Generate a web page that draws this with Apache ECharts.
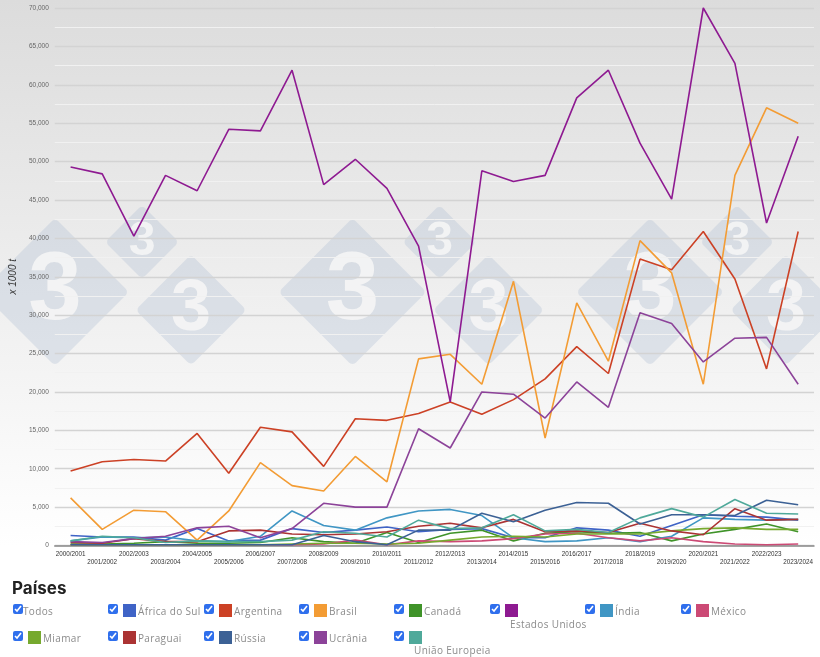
<!DOCTYPE html>
<html>
<head>
    <meta charset="utf-8">
    <title>Países</title>
    <script src="https://cdn.jsdelivr.net/npm/echarts@6/dist/echarts.min.js"></script>
    <style>
        html, body { margin: 0; padding: 0; background: #fff; overflow: hidden; }
        #main { position: absolute; left: 0; top: 0; width: 820px; height: 657px; }
        h2 { position: absolute; left: 12px; top: 578px; margin: 0; font: 700 17px Inter, sans-serif; color: #222; }
        #legend label { position: absolute; font: 10px "Open Sans", sans-serif; letter-spacing: .35px; color: #8b8b8b; white-space: nowrap; }
        #legend input { position: absolute; width: 10px; height: 10px; margin: 0; accent-color: #2f6fed; }
        #legend i { position: absolute; width: 13px; height: 13px; }
        #legend span { position: absolute; }
    </style>
</head>
<body>
    <div id="main"></div>
    <h2>Países</h2>
    <div id="legend"></div>
    <script type="text/javascript">
    var categories = ['2000/2001','2001/2002','2002/2003','2003/2004','2004/2005','2005/2006','2006/2007','2007/2008','2008/2009','2009/2010','2010/2011','2011/2012','2012/2013','2013/2014','2014/2015','2015/2016','2016/2017','2017/2018','2018/2019','2019/2020','2020/2021','2021/2022','2022/2023','2023/2024'];

    var africaDoSul = [1300,1100,1100,700,2200,600,700,2200,1700,2000,2400,1800,2100,2200,1000,1000,2300,2000,1200,2600,4000,3800,3700,3300];
    var argentina = [9700,10900,11200,11000,14600,9400,15400,14800,10300,16500,16300,17200,18700,17100,19000,21700,25900,22400,37300,35900,40900,34700,23000,40900];
    var brasil = [6200,2100,4600,4400,700,4500,10800,7800,7100,11600,8300,24300,24900,21000,34400,14000,31600,24000,39700,35500,21000,48200,57000,55000];
    var canada = [200,200,300,500,300,300,400,1000,500,300,1700,400,1600,2000,600,1600,1800,1600,1700,600,1500,2100,2800,1800];
    var estadosUnidos = [49300,48400,40300,48200,46200,54200,54000,61900,47000,50300,46500,39000,18700,48800,47400,48200,58300,61900,52400,45100,70000,62800,42000,53300];
    var india = [600,1100,1000,1100,600,500,1200,4500,2600,2000,3600,4500,4700,3900,1000,500,600,1000,500,1200,3600,3400,3300,3400];
    var mexico = [100,100,100,100,100,100,100,100,200,700,100,600,500,600,900,1500,1600,1000,600,1000,500,200,100,200];
    var miamar = [100,100,100,100,100,100,100,200,300,300,200,300,700,1100,1200,1100,1500,1500,1500,1900,2200,2300,2100,2100];
    var paraguai = [400,300,900,500,500,1900,2000,1500,1400,1500,1800,2500,2900,2300,3400,1800,1900,1700,2900,1900,1400,4800,3300,3400];
    var russia = [100,100,100,100,100,100,100,100,1300,500,100,2000,2000,4200,3100,4600,5600,5500,2800,4000,4000,3900,5900,5300];
    var ucrania = [500,400,900,1200,2300,2500,1000,2200,5500,5000,5000,15200,12700,20000,19700,16600,21300,18000,30300,28900,23900,27000,27100,21000];
    var uniaoEuropeia = [600,1200,1000,400,600,500,500,700,1800,1600,1100,3300,2200,2300,4000,1900,2100,1700,3600,4800,3700,6000,4200,4100];

    var paises = [
        { name: 'África do Sul', data: africaDoSul, color: '#3f63c6' },
        { name: 'Argentina', data: argentina, color: '#cc4125' },
        { name: 'Brasil', data: brasil, color: '#f39c34' },
        { name: 'Canadá', data: canada, color: '#3f9329' },
        { name: 'Estados Unidos', data: estadosUnidos, color: '#8e1a91' },
        { name: 'Índia', data: india, color: '#4096c4' },
        { name: 'México', data: mexico, color: '#cc4a75' },
        { name: 'Miamar', data: miamar, color: '#76a92e' },
        { name: 'Paraguai', data: paraguai, color: '#ab3333' },
        { name: 'Rússia', data: russia, color: '#3c6195' },
        { name: 'Ucrânia', data: ucrania, color: '#8c4399' },
        { name: 'União Europeia', data: uniaoEuropeia, color: '#4fa99a' }
    ];

    // marca d'agua: losangos com o 3
    function losango(cx, cy, d) {
        var lado = d * Math.SQRT2;
        return {
            type: 'group', x: cx, y: cy, silent: true,
            children: [
                { type: 'rect', z: -5, rotation: Math.PI / 4,
                  shape: { x: -lado / 2, y: -lado / 2, width: lado, height: lado, r: 5 },
                  style: { fill: '#b4c2d6', opacity: 0.36 } },
                { type: 'text', z: -4,
                  style: { text: '3', x: 0, y: 0, align: 'center', verticalAlign: 'middle',
                           fontFamily: 'Liberation Sans', fontWeight: 'bold', fontSize: d * 1.3, fill: 'rgba(245,245,245,0.9)' } }
            ]
        };
    }
    var marcas = [
        { type: 'rect', z: -10, silent: true, shape: { x: 0, y: 0, width: 820, height: 546 },
          style: { fill: new echarts.graphic.LinearGradient(0, 0, 0, 1, [{ offset: 0, color: '#dcdcdc' }, { offset: 1, color: '#ffffff' }]) } }
    ];
    [0, 1, 2].forEach(function (i) {
        var dx = i * 297.5;
        marcas.push(losango(55 + dx, 292, 74), losango(142 + dx, 242, 37), losango(191 + dx, 310, 55.5));
    });

    var myChart = echarts.init(document.getElementById('main'));
    var option = {
        animation: false,
        grid: { left: 47, right: 6, top: 8, height: 537.5 },
        legend: { show: false },
        graphic: { elements: marcas },
        xAxis: {
            type: 'category',
            data: categories,
            axisTick: { show: false },
            axisLine: { lineStyle: { color: '#8a8a8a', width: 1.5 } },
            axisLabel: {
                interval: 0, margin: 5, fontSize: 6.3, lineHeight: 8, color: '#333',
                fontFamily: 'Liberation Sans',
                formatter: function (v, i) { return i % 2 ? '\n' + v : v; }
            }
        },
        yAxis: {
            type: 'value',
            min: 0, max: 70000, interval: 5000,
            name: 'x 1000 t',
            nameLocation: 'middle',
            nameGap: 32,
            nameTextStyle: { fontSize: 10, fontStyle: 'italic', color: '#333', fontFamily: 'Liberation Sans' },
            axisLine: { show: false },
            axisTick: { show: false },
            axisLabel: {
                margin: 6, fontSize: 6.5, color: '#666', fontFamily: 'Liberation Sans',
                formatter: function (v) { return v.toLocaleString('en-US'); }
            },
            minorTick: { show: false, splitNumber: 2 },
            splitLine: { lineStyle: { color: '#d3d3d3', width: 1.3 } },
            minorSplitLine: { show: true, lineStyle: { color: '#f1f1f1', width: 1 } }
        },
        series: paises.map(function (p) {
            return {
                name: p.name, type: 'line', data: p.data,
                showSymbol: false, clip: false,
                lineStyle: { width: 1.6, color: p.color },
                itemStyle: { color: p.color }
            };
        })
    };
    myChart.setOption(option);

    // legenda em html, com as caixas a funcionar
    var colunas = [13, 108, 204, 299, 394, 490, 585, 681];
    var caixas = [];
    function linhaLegenda(nome, cor, x, y, textoX, textoY) {
        var el = document.createElement('label');
        var html = '<input type="checkbox" checked style="left:' + x + 'px;top:' + y + 'px">';
        if (cor) html += '<i style="left:' + (x + 15) + 'px;top:' + y + 'px;background:' + cor + '"></i>';
        html += '<span style="left:' + textoX + 'px;top:' + textoY + 'px">' + nome + '</span>';
        el.innerHTML = html;
        document.getElementById('legend').appendChild(el);
        return el.querySelector('input');
    }
    var todos = linhaLegenda('Todos', null, 13, 604, 23, 604);
    paises.forEach(function (p, i) {
        var pos = i + 1;
        var x = colunas[pos % 8];
        var y = pos < 8 ? 604 : 631;
        var tx = x + 30, ty = y;
        if (p.name == 'Estados Unidos') { tx = 510; ty = 617; }
        if (p.name == 'União Europeia') { tx = 414; ty = 643; }
        var c = linhaLegenda(p.name, p.color, x, y, tx, ty);
        caixas.push(c);
        c.onchange = function () {
            myChart.dispatchAction({ type: c.checked ? 'legendSelect' : 'legendUnSelect', name: p.name });
        };
    });
    todos.onchange = function () {
        caixas.forEach(function (c) {
            if (c.checked != todos.checked) { c.checked = todos.checked; c.onchange(); }
        });
    };
    </script>
</body>
</html>
